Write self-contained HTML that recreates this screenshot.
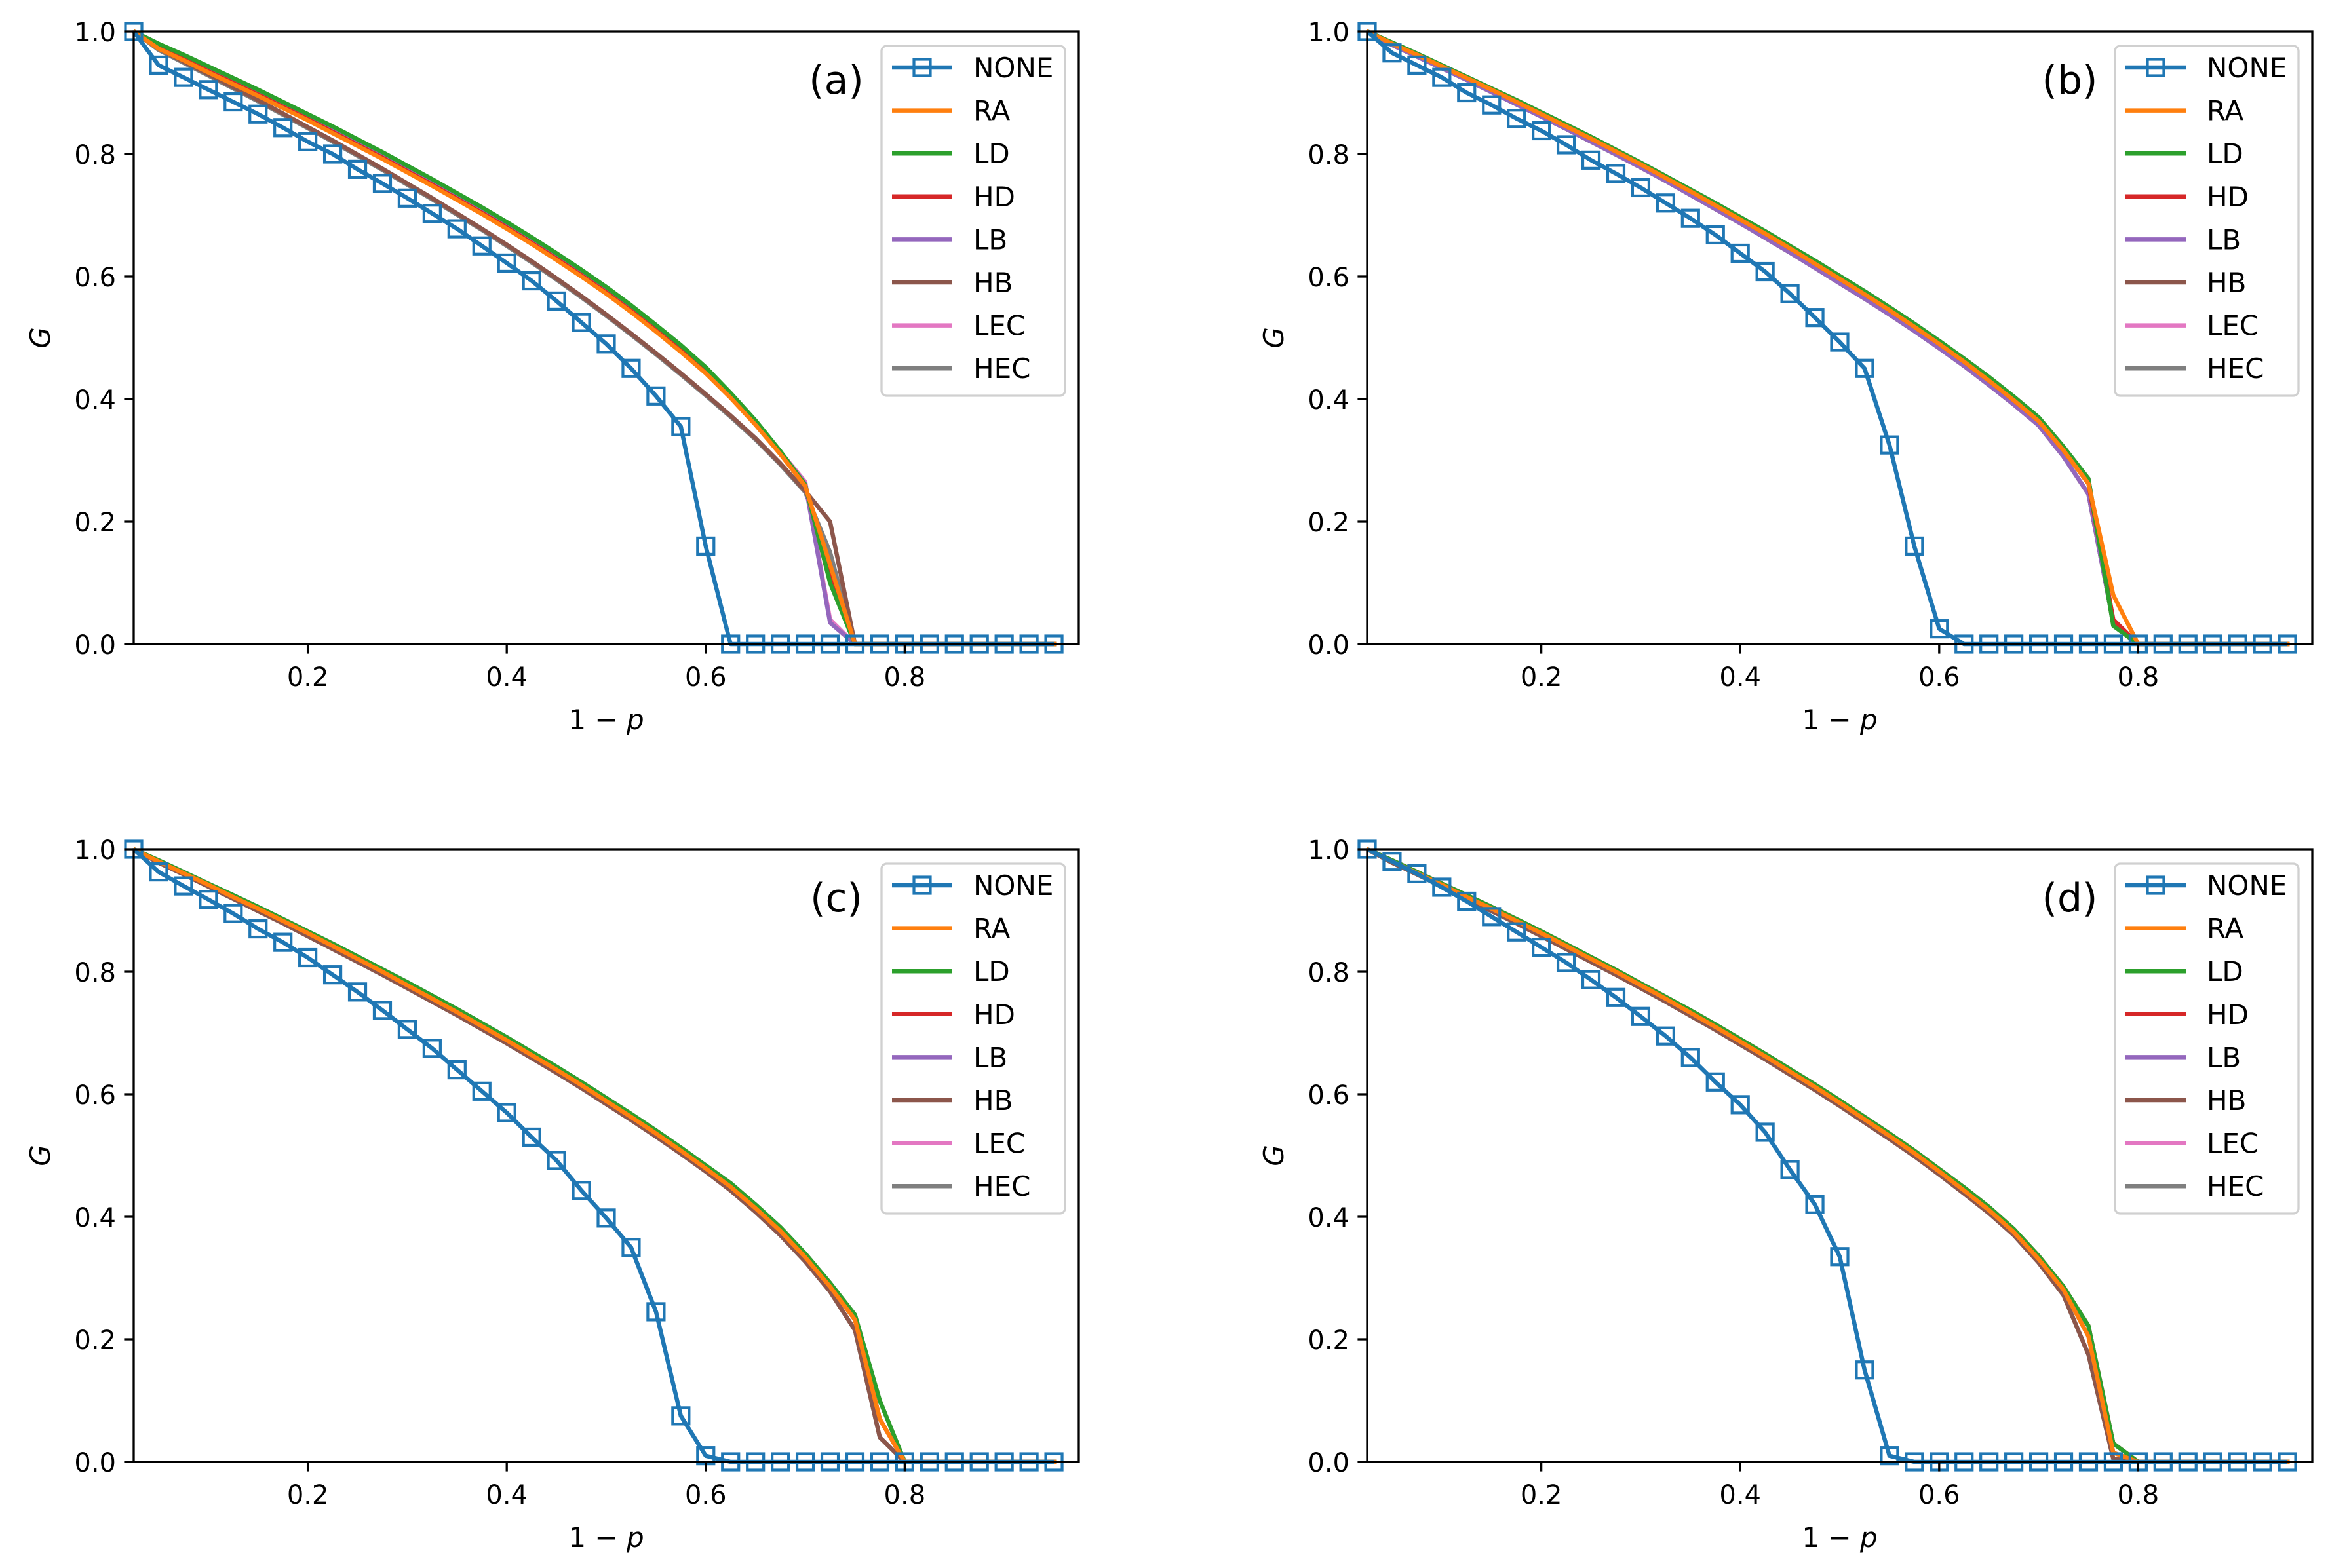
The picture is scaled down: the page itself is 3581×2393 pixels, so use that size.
<!DOCTYPE html>
<html><head><meta charset="utf-8"><style>
html,body{margin:0;padding:0;background:#fff}
svg{display:block;font-family:"DejaVu Sans","Liberation Sans",sans-serif}
</style></head><body>
<svg id="fig" width="3581" height="2393" viewBox="0 0 3581 2393" xmlns="http://www.w3.org/2000/svg"></svg>
<script>
const xs = [0.025,0.05,0.075,0.1,0.125,0.15,0.175,0.2,0.225,0.25,0.275,0.3,0.325,0.35,0.375,0.4,0.425,0.45,0.475,0.5,0.525,0.55,0.575,0.6,0.625,0.65,0.675,0.7,0.725,0.75,0.775,0.8,0.825,0.85,0.875,0.9,0.925,0.95];
const seriesNames = ["NONE","RA","LD","HD","LB","HB","LEC","HEC"];
const seriesColors = ["#1f77b4","#ff7f0e","#2ca02c","#d62728","#9467bd","#8c564b","#e377c2","#7f7f7f"];
const panelLabels = ["(a)","(b)","(c)","(d)"];
const xTicks = [0.2,0.4,0.6,0.8];
const xTickLabels = ["0.2","0.4","0.6","0.8"];
const yTicks = [0,0.2,0.4,0.6,0.8,1.0];
const yTickLabels = ["0.0","0.2","0.4","0.6","0.8","1.0"];

// Panel (a)
const aNONE = [1.0,.945,.925,.905,.885,.865,.843,.82,.80,.775,.752,.728,.703,.678,.65,.622,.593,.56,.525,.49,.45,.405,.355,.16,0,0,0,0,0,0,0,0,0,0,0,0,0,0];
const aRA   = [1.0,.972,.953,.933,.914,.895,.875,.855,.834,.813,.792,.770,.748,.725,.702,.678,.653,.627,.600,.572,.542,.510,.477,.442,.402,.358,.31,.258,.13,0,0,0,0,0,0,0,0,0];
const aLD   = [1.0,.98,.962,.943,.924,.905,.885,.865,.845,.824,.803,.781,.759,.736,.713,.689,.664,.638,.611,.583,.553,.521,.488,.452,.41,.365,.315,.26,.10,0,0,0,0,0,0,0,0,0];
const aHD   = [1.0,.974,.955,.935,.916,.897,.877,.857,.836,.815,.794,.772,.750,.727,.704,.680,.655,.629,.602,.574,.544,.512,.479,.444,.404,.36,.312,.258,.11,0,0,0,0,0,0,0,0,0];
const aLB   = [1.0,.975,.957,.937,.918,.899,.879,.859,.839,.818,.797,.775,.753,.730,.707,.683,.658,.632,.605,.577,.547,.516,.483,.447,.406,.362,.313,.262,.035,0,0,0,0,0,0,0,0,0];
const aHB   = [1.0,.972,.951,.93,.909,.888,.866,.844,.822,.799,.776,.752,.728,.703,.678,.652,.625,.597,.568,.538,.507,.475,.442,.408,.373,.336,.295,.25,.20,0,0,0,0,0,0,0,0,0];
const aLEC  = [1.0,.977,.959,.94,.921,.902,.882,.862,.842,.821,.800,.778,.756,.733,.710,.686,.661,.635,.608,.580,.550,.518,.485,.449,.408,.363,.314,.265,.04,0,0,0,0,0,0,0,0,0];
const aHEC  = [1.0,.970,.949,.928,.907,.886,.864,.842,.820,.797,.774,.750,.726,.701,.676,.650,.623,.595,.566,.536,.505,.473,.440,.406,.371,.334,.293,.248,.15,0,0,0,0,0,0,0,0,0];
// Panel (b)
const bNONE = [1.0,.965,.945,.925,.90,.88,.858,.838,.815,.79,.768,.745,.72,.695,.668,.638,.608,.572,.533,.493,.45,.325,.16,.025,0,0,0,0,0,0,0,0,0,0,0,0,0,0];
const bHI   = [1.0,.982,.964,.945,.926,.907,.888,.868,.848,.828,.807,.786,.764,.742,.720,.697,.674,.650,.626,.601,.576,.550,.523,.495,.466,.436,.404,.370,.322,.270,.030,0,0,0,0,0,0,0];
const bMID  = [1.0,.980,.962,.943,.924,.905,.885,.865,.845,.825,.804,.783,.761,.739,.716,.693,.670,.646,.621,.596,.571,.545,.518,.490,.461,.430,.398,.364,.316,.262,.040,0,0,0,0,0,0,0];
const bLO   = [1.0,.978,.959,.940,.921,.901,.881,.861,.841,.820,.799,.778,.756,.733,.710,.687,.663,.639,.614,.589,.564,.538,.511,.483,.454,.423,.391,.357,.306,.245,.035,0,0,0,0,0,0,0];
const bRA   = [1.0,.980,.962,.943,.924,.905,.885,.865,.845,.825,.804,.783,.761,.739,.716,.693,.670,.646,.621,.596,.571,.545,.518,.490,.461,.430,.398,.364,.316,.262,.080,0,0,0,0,0,0,0];
// Panel (c)
const cNONE = [1.0,.963,.94,.918,.895,.87,.848,.823,.795,.767,.737,.706,.675,.64,.605,.57,.53,.492,.443,.398,.35,.245,.075,.01,0,0,0,0,0,0,0,0,0,0,0,0,0,0];
const cHI   = [1.0,.982,.963,.944,.925,.906,.886,.866,.846,.825,.804,.783,.761,.739,.716,.693,.669,.645,.620,.594,.568,.541,.513,.484,.455,.420,.383,.340,.292,.240,.100,0,0,0,0,0,0,0];
const cMID  = [1.0,.980,.961,.942,.922,.903,.883,.863,.842,.821,.800,.778,.756,.734,.711,.688,.664,.640,.615,.589,.563,.536,.508,.479,.449,.414,.377,.334,.286,.232,.070,0,0,0,0,0,0,0];
const cLO   = [1.0,.978,.959,.939,.919,.899,.879,.858,.837,.816,.795,.773,.751,.729,.706,.683,.659,.635,.610,.584,.558,.531,.503,.474,.443,.408,.370,.327,.278,.215,.040,0,0,0,0,0,0,0];
// Panel (d)
const dNONE = [1.0,.98,.96,.938,.915,.89,.865,.84,.815,.787,.758,.727,.695,.66,.62,.583,.538,.477,.42,.335,.15,.01,0,0,0,0,0,0,0,0,0,0,0,0,0,0,0,0];
const dHI   = [1.0,.982,.963,.944,.925,.906,.886,.866,.845,.824,.803,.781,.759,.737,.714,.690,.666,.641,.616,.590,.563,.536,.508,.478,.448,.416,.380,.336,.286,.222,.030,0,0,0,0,0,0,0];
const dMID  = [1.0,.980,.961,.942,.922,.903,.883,.863,.842,.821,.800,.778,.756,.733,.710,.686,.662,.637,.612,.586,.559,.532,.504,.474,.443,.411,.375,.331,.281,.205,.015,0,0,0,0,0,0,0];
const dLO   = [1.0,.978,.959,.939,.919,.899,.879,.858,.837,.816,.795,.773,.751,.728,.705,.681,.657,.632,.607,.581,.554,.527,.499,.469,.438,.406,.370,.325,.272,.175,.005,0,0,0,0,0,0,0];

const panels = [
  {x0:204,x1:1646,y0:48,y1:983, data:[aNONE,aRA,aLD,aHD,aLB,aHB,aLEC,aHEC]},
  {x0:2086,x1:3528,y0:48,y1:983, data:[bNONE,bRA,bHI,bMID,bLO,bLO,bHI,bLO]},
  {x0:204,x1:1646,y0:1296,y1:2231, data:[cNONE,cMID,cHI,cMID,cMID,cLO,cHI,cLO]},
  {x0:2086,x1:3528,y0:1296,y1:2231, data:[dNONE,dMID,dHI,dHI,dMID,dLO,dHI,dLO]}
];
const XMIN=0.025, XMAX=0.975, YMIN=0, YMAX=1;
const NS="http://www.w3.org/2000/svg";
const svg=document.getElementById('fig');
function mk(tag,attrs,parent){const e=document.createElementNS(NS,tag);for(const k in attrs)e.setAttribute(k,attrs[k]);(parent||svg).appendChild(e);return e;}

panels.forEach((p,pi)=>{
  const sx=v=>p.x0+(v-XMIN)/(XMAX-XMIN)*(p.x1-p.x0);
  const sy=v=>p.y1-(v-YMIN)/(YMAX-YMIN)*(p.y1-p.y0);
  const g=mk('g',{});
  
  
  const cid='clip'+pi;
  const cp=mk('clipPath',{id:cid},g);
  mk('rect',{x:p.x0,y:p.y0-20,width:p.x1-p.x0,height:p.y1-p.y0+40},cp);
  for(let s=seriesNames.length-1;s>=1;s--){
    const vals=p.data[s];
    const pts=xs.map((x,i)=>sx(x).toFixed(1)+','+sy(vals[i]).toFixed(1)).join(' ');
    const pl=mk('polyline',{points:pts,fill:'none',stroke:seriesColors[s],'stroke-width':6.5,'stroke-linejoin':'round','stroke-linecap':'square','clip-path':'url(#'+cid+')'},g);
    
    
  }
  const ng=mk('g',{},g);
  
  
  mk('polyline',{points:xs.map((x,i)=>sx(x).toFixed(1)+','+sy(p.data[0][i]).toFixed(1)).join(' '),fill:'none',stroke:seriesColors[0],'stroke-width':6.5,'stroke-linejoin':'round'},ng);
  xs.forEach((x,i)=>{
    const r=mk('rect',{x:sx(x)-12.5,y:sy(p.data[0][i])-12.5,width:25,height:25,fill:'none',stroke:seriesColors[0],'stroke-width':4.2},ng);
    
    
  });
  const fr=mk('rect',{x:p.x0,y:p.y0,width:p.x1-p.x0,height:p.y1-p.y0,fill:'none',stroke:'#000','stroke-width':3.3},g);
  
  
  xTicks.forEach((t,i)=>{
    mk('line',{x1:sx(t),x2:sx(t),y1:p.y1,y2:p.y1+14.6,stroke:'#000','stroke-width':3.3},g);
    const tx=mk('text',{x:sx(t),y:p.y1+64,'font-size':40,'text-anchor':'middle',fill:'#000'},g);
    tx.textContent=xTickLabels[i];
    
    
  });
  yTicks.forEach((t,i)=>{
    mk('line',{x1:p.x0-14.6,x2:p.x0,y1:sy(t),y2:sy(t),stroke:'#000','stroke-width':3.3},g);
    const tx=mk('text',{x:p.x0-27,y:sy(t)+15,'font-size':40,'text-anchor':'end',fill:'#000'},g);
    tx.textContent=yTickLabels[i];
    
    
  });
  const xl=mk('text',{x:(p.x0+p.x1)/2,y:p.y1+130,'font-size':42,'text-anchor':'middle',fill:'#000'},g);
  xl.innerHTML='1 \u2212 <tspan font-style="italic">p</tspan>';
  
  
  const yl=mk('text',{x:0,y:0,'font-size':42,'font-style':'italic','text-anchor':'middle',fill:'#000',transform:'translate('+(p.x0-128)+','+((p.y0+p.y1)/2)+') rotate(-90)'},g);
  yl.textContent='G';
  
  
  const pl=mk('text',{x:p.x1-370,y:p.y0+95,'font-size':60,'text-anchor':'middle',fill:'#000'},g);
  pl.textContent=panelLabels[pi];
  
  
  const lg=mk('g',{},g);
  
  
  const lx=p.x1-301, ly=p.y0+22;
  mk('rect',{x:lx,y:ly,width:280,height:534,rx:8,fill:'#fff','fill-opacity':0.8,stroke:'#d0d0d0','stroke-width':3.3},lg);
  seriesNames.forEach((n,i)=>{
    const yy=ly+33+i*65.6;
    const e=mk('g',{},lg);
    
    
    mk('line',{x1:lx+16,x2:lx+108,y1:yy,y2:yy,stroke:seriesColors[i],'stroke-width':6.5},e);
    if(i===0) mk('rect',{x:lx+62-12.5,y:yy-12.5,width:25,height:25,fill:'none',stroke:seriesColors[0],'stroke-width':4.2},e);
    const t=mk('text',{x:lx+140,y:yy+15,'font-size':42,fill:'#000'},e);
    t.textContent=n;
  });
});
</script>
</body></html>
